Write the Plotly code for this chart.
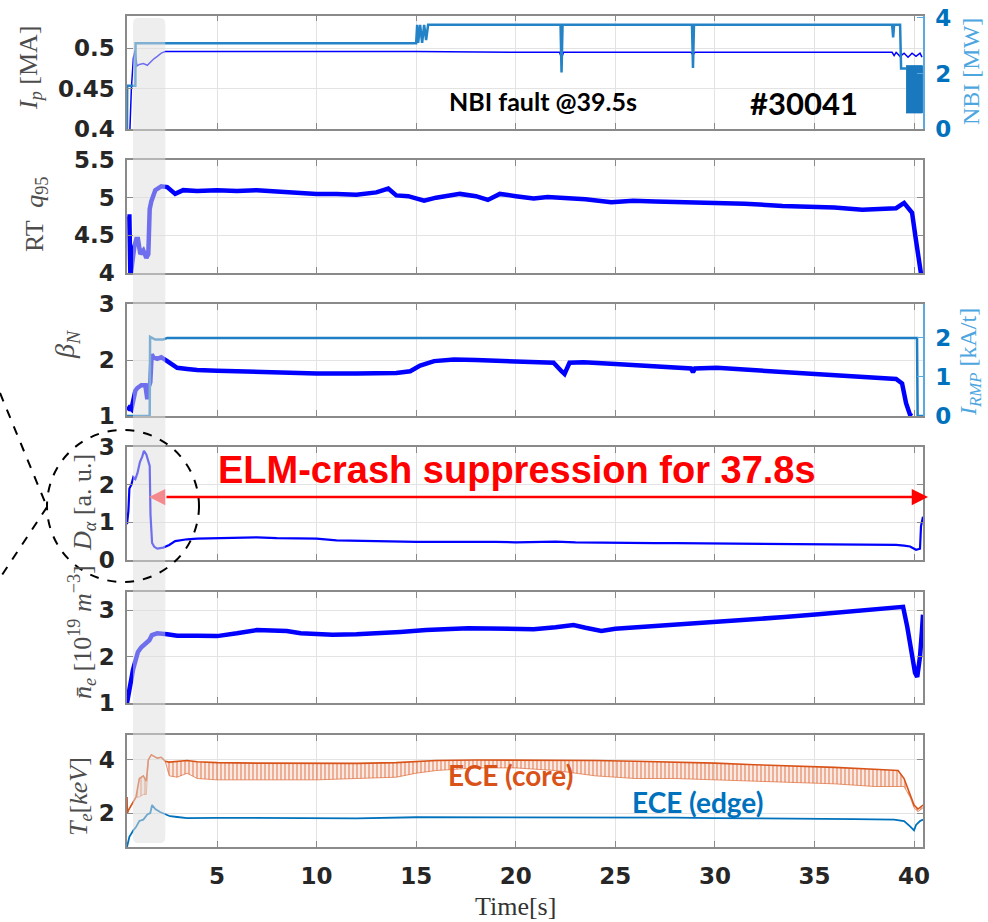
import plotly.graph_objects as go

W, H = 988, 922

# ---------------- data ----------------
ip_t = [0.48, 0.62, 0.70, 0.80, 0.88, 0.98, 1.1, 1.3, 1.5, 1.65, 1.83, 2.0, 2.2, 2.4, 3, 5, 10, 15, 20,
        22.2, 22.3, 22.4, 25, 28.8, 28.9, 29.0, 30, 35, 38.9, 39.0, 39.1, 39.3, 39.5, 39.7, 39.9, 40.1, 40.3, 40.4]
ip_v = [0.38, 0.395, 0.45, 0.488, 0.497, 0.478, 0.48, 0.481, 0.479, 0.483, 0.487, 0.49, 0.494, 0.496, 0.496, 0.496,
        0.496, 0.496, 0.495, 0.495, 0.488, 0.495, 0.495, 0.495, 0.492, 0.495, 0.495, 0.495, 0.495, 0.491, 0.495,
        0.49, 0.494, 0.489, 0.494, 0.49, 0.494, 0.489]

nbi_t = [0.48, 0.49, 0.90, 0.91, 15.0, 15.05, 15.1, 15.2, 15.3, 15.4, 15.5, 15.6, 22.25, 22.3, 22.35, 28.85, 28.9,
         28.95, 38.9, 38.95, 39.0, 39.3, 39.35, 39.6]
nbi_v = [0.0, 1.56, 1.56, 3.09, 3.09, 3.75, 3.1, 3.75, 3.1, 3.75, 3.2, 3.75, 3.75, 2.04, 3.75, 3.75, 2.2, 3.75,
         3.75, 3.3, 3.75, 3.75, 2.18, 2.18]
nbi_blk_t = [39.6, 40.42, 40.42, 39.6]
nbi_blk_v = [2.28, 2.28, 0.58, 0.58]

q95_t = [0.5, 0.6, 0.65, 0.75, 0.85, 0.95, 1.03, 1.15, 1.3, 1.45, 1.55, 1.62, 1.7, 1.9, 2.2, 2.5, 2.9, 3.3, 4, 5, 6,
         7, 8, 9, 10, 11, 12, 13, 13.6, 14.0, 14.6, 15.4, 16, 17.2, 18, 18.6, 19.2, 20, 20.9, 21.6, 22.4, 23.5, 24.8,
         25.9, 27, 28.3, 28.9, 30, 31.5, 33.4, 35, 36, 37.4, 38.5, 39.1, 39.5, 39.9, 40.1, 40.3, 40.4]
q95_v = [4.75, 4.75, 3.95, 4.2, 4.35, 4.45, 4.45, 4.25, 4.3, 4.2, 4.25, 4.85, 4.95, 5.1, 5.15, 5.14, 5.05, 5.1, 5.09,
         5.1, 5.09, 5.1, 5.08, 5.07, 5.05, 5.05, 5.04, 5.07, 5.12, 5.03, 5.02, 4.96, 5.0, 5.05, 5.02, 4.97, 5.05,
         5.02, 4.99, 5.01, 5.0, 4.98, 4.94, 4.96, 4.95, 4.94, 4.95, 4.93, 4.92, 4.89, 4.88, 4.87, 4.84, 4.85, 4.86,
         4.93, 4.8, 4.43, 4.0, 3.9]

bn_t = [0.5, 0.6, 0.7, 0.8, 0.9, 1.0, 1.2, 1.4, 1.5, 1.55, 1.65, 1.72, 1.8, 2.0, 2.2, 2.5, 3.0, 3.5, 4, 5, 6, 8,
        10, 12, 14, 14.7, 15.2, 15.9, 16.9, 18, 19.2, 20.5, 21.9, 22.3, 22.45, 22.7, 23.4, 25, 25.9, 26.75, 28.8,
        28.9, 29.0, 30.1, 32, 33.4, 35, 36.8, 38, 39.1, 39.4, 39.5, 39.6, 39.8, 39.9]
bn_v = [1.1, 1.15, 1.12, 1.3, 1.45, 1.5, 1.55, 1.55, 1.3, 1.5, 1.6, 2.1, 2.05, 2.02, 2.05, 1.98, 1.86, 1.84, 1.82,
        1.81, 1.8, 1.77, 1.76, 1.76, 1.77, 1.8, 1.9, 1.98, 2.01, 2.0, 1.98, 1.96, 1.95, 1.8, 1.75, 1.95, 1.96,
        1.93, 1.91, 1.89, 1.85, 1.78, 1.85, 1.86, 1.82, 1.78, 1.75, 1.70, 1.68, 1.66, 1.58, 1.4, 1.23, 1.02, 1.0]

irmp_t = [0.48, 1.62, 1.64, 1.9, 2.3, 2.5, 40.15, 40.18, 40.45]
irmp_v = [0.0, 0.0, 2.03, 1.96, 1.96, 2.0, 2.0, 0.0, 0.0]

da_t = [0.48, 0.55, 0.6, 0.7, 0.8, 0.9, 1.0, 1.13, 1.25, 1.33, 1.45, 1.55, 1.62, 1.66, 1.74, 1.85, 2.0, 2.3,
        2.6, 2.9, 3.5, 4, 5, 6, 7, 8, 9, 10, 11, 12.5, 14, 15, 16, 17.6, 19, 20, 21, 22, 23, 24, 25.9, 27, 28,
        30, 32, 34, 36, 38, 39.1, 39.5, 39.8, 40.1, 40.3, 40.35, 40.45]
da_v = [0.95, 1.3, 1.9, 2.0, 2.2, 2.15, 2.3, 2.6, 2.75, 2.9, 2.8, 2.6, 2.5, 1.2, 0.45, 0.35, 0.3, 0.33, 0.4, 0.5,
        0.55, 0.57, 0.58, 0.58, 0.6, 0.58, 0.57, 0.57, 0.52, 0.5, 0.49, 0.48, 0.48, 0.49, 0.48, 0.47, 0.48,
        0.49, 0.47, 0.46, 0.45, 0.45, 0.45, 0.44, 0.43, 0.43, 0.42, 0.41, 0.4, 0.38, 0.36, 0.27, 0.3, 0.9, 1.15]

ne_t = [0.48, 0.6, 0.78, 0.9, 1.03, 1.2, 1.48, 1.6, 1.73, 2.0, 2.5, 3, 4, 5, 6, 7, 8.5, 9.2, 10.8, 12, 14.2,
        15.5, 17.6, 19, 20.9, 22, 22.9, 23.5, 24.3, 25, 26.5, 28.3, 30.5, 32, 33.5, 35.2, 37, 38.5, 39.15,
        39.45, 39.66, 39.9, 40.05, 40.16, 40.3, 40.4, 40.45]
ne_v = [1.0, 1.3, 1.71, 1.9, 2.1, 2.2, 2.29, 2.35, 2.46, 2.5, 2.48, 2.45, 2.45, 2.44, 2.5, 2.57, 2.55, 2.5,
        2.47, 2.48, 2.53, 2.57, 2.61, 2.6, 2.59, 2.63, 2.68, 2.62, 2.55, 2.6, 2.64, 2.69, 2.77, 2.8, 2.85,
        2.91, 2.97, 3.02, 3.04, 3.07, 2.64, 1.99, 1.65, 1.56, 2.0, 2.57, 2.9]

te_t = [0.48, 0.5, 0.55, 0.7, 0.93, 1.1, 1.3, 1.45, 1.55, 1.7, 2.0, 2.2, 2.4, 2.6, 3.0, 3.5, 4.0, 5, 7, 10, 12,
        14, 15, 16, 18, 20, 22, 24, 26, 28, 30, 32, 34, 36, 38, 39.2, 39.5, 39.8, 40.0, 40.2, 40.45]
te_core_hi = [2.6, 2.0, 2.1, 2.3, 2.6, 3.3, 3.4, 3.2, 4.0, 4.19, 4.07, 4.1, 3.95, 3.92, 3.95, 3.98, 3.93, 3.9,
              3.88, 3.86, 3.87, 3.9, 3.95, 3.98, 4.0, 4.0, 4.0, 3.98, 3.95, 3.92, 3.88, 3.82, 3.78, 3.72, 3.65,
              3.6, 3.3, 2.7, 2.3, 2.15, 2.3]
te_core_lo = [2.6, 2.0, 2.1, 2.3, 2.6, 2.6, 2.7, 2.7, 4.0, 4.19, 4.07, 4.1, 3.95, 3.4, 3.35, 3.5, 3.3, 3.25,
              3.25, 3.25, 3.3, 3.35, 3.5, 3.6, 3.7, 3.7, 3.6, 3.4, 3.3, 3.3, 3.25, 3.2, 3.15, 3.1, 3.0, 3.0,
              3.0, 2.6, 2.2, 2.05, 2.2]
te_edge_t = [0.48, 0.6, 0.8, 0.93, 1.1, 1.3, 1.5, 1.65, 1.74, 1.9, 2.14, 2.4, 2.64, 3.0, 3.5, 5, 8, 10, 12, 15,
             18, 20, 22, 25, 28, 30, 33, 35, 37, 39, 39.5, 39.8, 40.0, 40.1, 40.3, 40.45]
te_edge_v = [0.72, 1.1, 1.35, 1.47, 1.7, 1.75, 1.95, 2.0, 2.3, 2.15, 2.04, 1.95, 1.88, 1.85, 1.81, 1.82, 1.8,
             1.79, 1.8, 1.84, 1.84, 1.83, 1.84, 1.83, 1.83, 1.81, 1.8, 1.78, 1.77, 1.75, 1.7, 1.5, 1.35, 1.55,
             1.7, 1.75]

# tick labels
x_ticks = [5, 10, 15, 20, 25, 30, 35, 40]
ip_ticks, ip_text = [0.4, 0.45, 0.5], ["0.4", "0.45", "0.5"]
nbi_ticks = [0, 2, 4]
q_ticks, q_text = [4, 4.5, 5, 5.5], ["4", "4.5", "5", "5.5"]
bn_ticks = [1, 2, 3]
irmp_ticks = [0, 1, 2]
da_ticks = [0, 1, 2, 3]
ne_ticks = [1, 2, 3]
te_ticks = [2, 4]

# --------------- layout helpers ----------------
def px_x(p):
    return p / W

def px_y(p):
    return 1 - p / H

XDOM = [px_x(127), px_x(923)]
XR = [0.48, 40.45]
panels = [(15.7, 129), (160, 273), (304, 416), (447, 560), (592, 703), (735, 847)]
yranges = [[0.4, 0.5404], [4, 5.5], [1, 3], [0, 3], [1, 3.39], [0.72, 4.94]]
yticks = [(ip_ticks, ip_text), (q_ticks, q_text), (bn_ticks, None), (da_ticks, None), (ne_ticks, None), (te_ticks, None)]

FRAME = "#8a8a8a"
GRID = "#e3e3e3"
TICKFONT = dict(family="DejaVu Sans", size=23, color="#262626", weight="bold")
RBLUE = "#0072BD"

fig = go.Figure()

def add(x, y, i, color, width, yax=None, **kw):
    fig.add_trace(go.Scatter(x=x, y=y, mode="lines", line=dict(color=color, width=width),
                             xaxis="x" if i == 1 else f"x{i}",
                             yaxis=yax if yax else ("y" if i == 1 else f"y{i}"),
                             showlegend=False, hoverinfo="skip", **kw))

# panel 1
add(nbi_t, nbi_v, 1, "#2483C6", 2.5, yax="y7")
add(nbi_blk_t, nbi_blk_v, 1, "#1A78BE", 1, yax="y7", fill="toself", fillcolor="#1A78BE")
add(ip_t, ip_v, 1, "#0000FF", 1.5)
# panel 2
add(q95_t, q95_v, 2, "#0000FF", 4.5)
# panel 3
add(irmp_t, irmp_v, 3, "#1F7FC4", 2.5, yax="y8")
add(bn_t, bn_v, 3, "#0000FF", 4.5)
# panel 4
add(da_t, da_v, 4, "#0000FF", 2.2)
# panel 5
add(ne_t, ne_v, 5, "#0000FF", 4.5)
# panel 6
add(te_t, te_core_lo, 6, "rgba(217,83,25,0.6)", 1)
add(te_t, te_core_hi, 6, "#D95319", 1.6, fill="tonexty", fillcolor="rgba(217,83,25,0.12)",
    fillpattern=dict(shape="|", size=4, solidity=0.45, fgcolor="rgba(217,83,25,0.85)", fillmode="overlay"))
add(te_edge_t, te_edge_v, 6, "#0072BD", 1.8)

layout = dict(width=W, height=H, margin=dict(l=0, r=0, t=0, b=0, pad=0, autoexpand=False),
              paper_bgcolor="white", plot_bgcolor="white", showlegend=False)

for i, ((top, bot), yr, (tv, tt)) in enumerate(zip(panels, yranges, yticks), start=1):
    xn = "xaxis" if i == 1 else f"xaxis{i}"
    yn = "yaxis" if i == 1 else f"yaxis{i}"
    layout[xn] = dict(domain=XDOM, range=XR, anchor="y" if i == 1 else f"y{i}", automargin=False,
                      showgrid=True, gridcolor=GRID, gridwidth=1, zeroline=False,
                      showline=True, linecolor=FRAME, linewidth=1.5, mirror="ticks",
                      ticks="inside", ticklen=6, tickcolor=FRAME, tickvals=x_ticks,
                      showticklabels=(i == 6), tickfont=TICKFONT, ticklabelstandoff=8)
    if i != 1:
        layout[xn]["matches"] = "x"
    yd = dict(domain=[px_y(bot), px_y(top)], range=yr, anchor="x" if i == 1 else f"x{i}", automargin=False,
              showgrid=True, gridcolor=GRID, gridwidth=1, zeroline=False,
              showline=True, linecolor=FRAME, linewidth=1.5,
              mirror=False if i in (1, 3) else "ticks",
              ticks="inside", ticklen=6, tickcolor=FRAME, tickvals=tv,
              tickfont=TICKFONT, ticklabelstandoff=6)
    if tt is not None:
        yd["ticktext"] = tt
    layout[yn] = yd

RFONT = dict(family="DejaVu Sans", size=23, color=RBLUE, weight="bold")
layout["yaxis7"] = dict(overlaying="y", side="right", anchor="x", range=[0, 4.08], tickvals=nbi_ticks,
                        automargin=False,
                        showgrid=False, zeroline=False, showline=True, linecolor="#5AAAE0", linewidth=1.5,
                        ticks="inside", ticklen=6, tickcolor="#5AAAE0", tickfont=RFONT, ticklabelstandoff=6)
layout["yaxis8"] = dict(overlaying="y3", side="right", anchor="x3", range=[0, 2.87], tickvals=irmp_ticks,
                        automargin=False,
                        showgrid=False, zeroline=False, showline=True, linecolor="#5AAAE0", linewidth=1.5,
                        ticks="inside", ticklen=6, tickcolor="#5AAAE0", tickfont=RFONT, ticklabelstandoff=6)

# gray highlighted interval (in time units) with rounded corners
t0, t1, rt = 0.78, 2.4, 0.25
yb, yt, ry = px_y(843), px_y(18), 6 / H
path = (f"M {t0+rt},{yb} L {t1-rt},{yb} Q {t1},{yb} {t1},{yb+ry} L {t1},{yt-ry} Q {t1},{yt} {t1-rt},{yt} "
        f"L {t0+rt},{yt} Q {t0},{yt} {t0},{yt-ry} L {t0},{yb+ry} Q {t0},{yb} {t0+rt},{yb} Z")
shapes = [
    dict(type="path", path=path, xref="x", yref="paper", layer="above",
         fillcolor="rgba(222,222,222,0.5)", line=dict(width=0)),
    dict(type="circle", xref="paper", yref="paper", x0=px_x(47), x1=px_x(199), y0=px_y(582), y1=px_y(430),
         line=dict(color="black", width=2, dash="dash"), layer="above"),
    dict(type="line", xref="paper", yref="paper", x0=px_x(0), y0=px_y(393), x1=px_x(47), y1=px_y(507),
         line=dict(color="black", width=2, dash="dash"), layer="above"),
    dict(type="line", xref="paper", yref="paper", x0=px_x(47), y0=px_y(507), x1=px_x(0), y1=px_y(578),
         line=dict(color="black", width=2, dash="dash"), layer="above"),
]
layout["shapes"] = shapes

SERIF = "Liberation Serif"
LBL = "#4d4d4d"
LBLUE = "#4DA6E0"

def label(text, x, y, color=LBL, size=26, angle=-90, family=SERIF):
    return dict(text=text, xref="paper", yref="paper", x=px_x(x), y=px_y(y), showarrow=False,
                textangle=angle, font=dict(family=family, size=size, color=color),
                xanchor="center", yanchor="middle")

annotations = [
    label("<i>I<sub>p</sub></i> [MA]", 30, 68),
    label("RT  <i>q</i><sub>95</sub>", 36, 215),
    label("<i>β<sub>N</sub></i>", 66, 345, size=28),
    label("<i>D<sub>α</sub></i> [a. u.]", 84, 503),
    label("<i>n̄<sub>e</sub></i> [10<sup>19</sup> <i>m</i><sup>−3</sup>]", 82, 632),
    label("<i>T<sub>e</sub></i>[<i>keV</i>]", 80, 797),
    label("NBI [MW]", 971, 72, color=LBLUE, size=24),
    label("<i>I<sub>RMP</sub></i> [kA/t]", 970, 362, color=LBLUE, size=24),
    label("Time[s]", 515, 906, color="#333333", angle=0),
    label("<b>NBI fault @39.5s</b>", 543, 101, color="black", size=25, angle=0, family="Lato"),
    label("<b>#30041</b>", 804, 103, color="black", size=31, angle=0, family="Lato"),
    label("<b>ELM-crash suppression for 37.8s</b>", 517, 470, color="#FF0000", size=38, angle=0,
          family="Liberation Sans"),
    label("<b>ECE (core)</b>", 511, 775, color="#D95319", size=28, angle=0, family="Lato"),
    label("<b>ECE (edge)</b>", 697, 802, color="#0072BD", size=28, angle=0, family="Lato"),
    # arrows
    dict(text="", xref="paper", yref="paper", x=px_x(928), y=px_y(497), ax=-(928 - 165), ay=0,
         showarrow=True, arrowhead=2, arrowsize=1.3, arrowwidth=2.5, arrowcolor="#FF0000", standoff=0),
    dict(text="", xref="paper", yref="paper", x=px_x(149), y=px_y(497), ax=(166 - 149), ay=0,
         showarrow=True, arrowhead=2, arrowsize=1.3, arrowwidth=2.5, arrowcolor="#F58A8E", standoff=0),
]
layout["annotations"] = annotations

fig.update_layout(**layout)
fig.write_html("out.html")
